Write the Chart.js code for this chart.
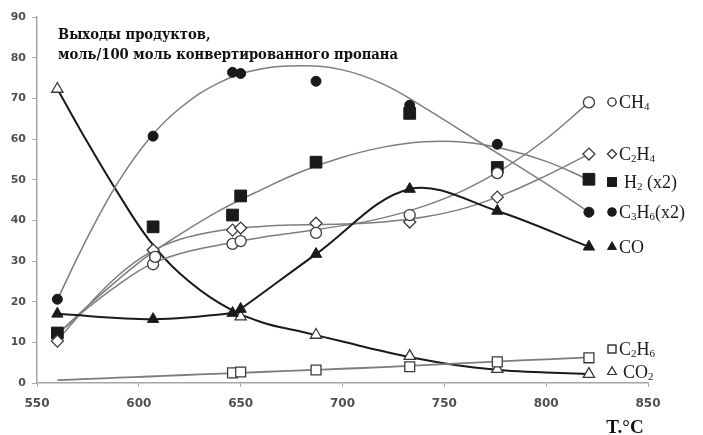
<!DOCTYPE html>
<html>
<head>
<meta charset="utf-8">
<script src="https://cdn.jsdelivr.net/npm/chart.js@4"></script>
<style>
  html, body { margin: 0; padding: 0; background: #fff; }
  #wrap { width: 703px; height: 435px; position: relative; }
</style>
</head>
<body>
<div id="wrap"><canvas id="myChart"></canvas></div>
<script>
// точки опытов (температура, °C)
const temps = [560, 607, 608, 646, 650, 687, 733, 776, 821];
const ch4 = [null, 29.2, 31, 34.2, 34.9, 36.9, 41.3, 51.6, 69];
const c2h4 = [10.3, 32.7, null, 37.6, 38.1, 39.3, 39.6, 45.7, 56.3];
const h2x2 = [12.3, 38.4, null, 41.3, 46, 54.3, 66.3, 53, 50.1];
const c3h6x2 = [20.6, 60.7, null, 76.4, 76.1, 74.2, 68.3, 58.7, 42];
const co = [17, 15.7, null, 17.2, 18.2, 31.7, 47.7, 42.3, 33.5];
const c2h6 = [null, null, null, 2.5, 2.7, 3.2, 4.0, 5.2, 6.2];
const co2 = [72.3, null, null, null, 16.3, 11.8, 6.6, 3.4, 2.2];

// линии тренда
const fitTemps = [560, 575, 590, 605, 620, 640, 660, 680, 700, 720, 740, 760, 780, 800, 821];
const fitCH4 = [12, 18.5, 24.2, 29, 31.8, 34, 35.8, 37.2, 38.7, 40.6, 43.5, 47.5, 53, 60, 69];
const fitC2H4 = [10.5, 19, 26.5, 32, 35.3, 37.5, 38.5, 38.9, 39.1, 39.6, 40.8, 43, 46.5, 51, 56.3];
const fitH2 = [12, 19, 25.5, 31.5, 36.5, 42.5, 47.5, 52, 55.5, 58, 59.3, 59.2, 57.5, 54.5, 50];
const fitC3H6 = [20.5, 36, 49.5, 60, 67.5, 74, 77.2, 78, 77, 73.5, 67.8, 61.5, 55.3, 49, 42];
const fitC2H6 = [0.7, 1.0, 1.3, 1.6, 1.9, 2.3, 2.7, 3.1, 3.5, 3.9, 4.4, 4.9, 5.4, 5.8, 6.3];
const fitCO2 = [72.3, 59, 46.5, 35.2, 27, 19.5, 15, 12.6, 10.2, 7.8, 5.7, 4.1, 3.1, 2.6, 2.2];

const xTicks = [550, 600, 650, 700, 750, 800, 850];
const yTicks = [0, 10, 20, 30, 40, 50, 60, 70, 80, 90];

const seriesNames = ['CH₄', 'C₂H₄', 'H₂ (x2)', 'C₃H₆(x2)', 'CO', 'C₂H₆', 'CO₂'];
const titleLines = ['Выходы продуктов,', 'моль/100 моль конвертированного пропана'];
const xTitle = 'T.°C';

const DARK = '#1a1a1a';
const GREY = '#7d7d7d';

function pts(xs, ys) {
    return xs.map((x, i) => ({ x, y: ys[i] })).filter(p => p.y !== null);
}

function marks(label, ys, style, filled, r) {
    return {
        label, data: pts(temps, ys), showLine: false, order: 1,
        pointStyle: style, pointRadius: r, pointHoverRadius: r,
        pointBackgroundColor: filled ? DARK : '#fff',
        pointBorderColor: filled ? DARK : '#3a3a3a',
        pointBorderWidth: filled ? 1 : 1.3
    };
}

function trend(ys, color, width) {
    return {
        data: pts(fitTemps, ys), showLine: true, order: 2,
        borderColor: color, borderWidth: width, pointRadius: 0,
        tension: 0.4, fill: false
    };
}

// подстрочные индексы рисуем мелким шрифтом
const SUB = '₀₁₂₃₄₅₆₇₈₉';
function drawRich(ctx, text, x, y, size) {
    let cx = x;
    for (const ch of text) {
        const k = SUB.indexOf(ch);
        if (k >= 0) {
            ctx.font = `${Math.round(size * 0.62)}px "Liberation Serif"`;
            ctx.fillText(String(k), cx, y + size * 0.22);
            cx += ctx.measureText(String(k)).width;
        } else {
            ctx.font = `${size}px "Liberation Serif"`;
            ctx.fillText(ch, cx, y);
            cx += ctx.measureText(ch).width;
        }
    }
}

function drawMarker(ctx, style, filled, x, y, r) {
    ctx.save();
    ctx.fillStyle = filled ? DARK : '#fff';
    ctx.strokeStyle = filled ? DARK : '#3a3a3a';
    ctx.lineWidth = 1.2;
    Chart.helpers.drawPoint(ctx, { pointStyle: style, radius: r, borderWidth: 1.2 }, x, y);
    ctx.fill();
    ctx.stroke();
    ctx.restore();
}

const legendRows = [
    { name: 0, style: 'circle', filled: false, r: 4, y: 102 },
    { name: 1, style: 'rectRot', filled: false, r: 4.5, y: 154 },
    { name: 2, style: 'rect', filled: true, r: 6, y: 182, gap: 5 },
    { name: 3, style: 'circle', filled: true, r: 4, y: 212 },
    { name: 4, style: 'triangle', filled: true, r: 4.5, y: 247 },
    { name: 5, style: 'rect', filled: false, r: 5.5, y: 349 },
    { name: 6, style: 'triangle', filled: false, r: 5, y: 372, gap: 4 }
];

const annotations = {
    id: 'annotations',
    afterDraw(chart) {
        const ctx = chart.ctx;
        ctx.save();
        // заголовок
        ctx.fillStyle = '#111';
        ctx.textBaseline = 'middle';
        ctx.font = 'bold 15px "DejaVu Serif"';
        const w = ctx.measureText(titleLines[1]).width;
        const sx = 340 / w;
        ctx.save();
        ctx.translate(58, 0);
        ctx.scale(sx, 1);
        ctx.fillText(titleLines[0], 0, 35);
        ctx.fillText(titleLines[1], 0, 55);
        ctx.restore();

        // подписи серий
        legendRows.forEach(row => {
            drawMarker(ctx, row.style, row.filled, 612, row.y, row.r);
            ctx.fillStyle = '#1a1a1a';
            ctx.textBaseline = 'middle';
            drawRich(ctx, seriesNames[row.name], 619 + (row.gap || 0), row.y + 1, 18);
        });

        // подпись оси X
        ctx.fillStyle = '#111';
        ctx.font = 'bold 19px "Liberation Serif"';
        ctx.textAlign = 'center';
        ctx.textBaseline = 'alphabetic';
        ctx.fillText(xTitle, 625, 433);
        ctx.restore();
    }
};

new Chart(document.getElementById('myChart'), {
    type: 'scatter',
    data: {
        datasets: [
            marks(seriesNames[0], ch4, 'circle', false, 5.5),
            marks(seriesNames[1], c2h4, 'rectRot', false, 6),
            marks(seriesNames[2], h2x2, 'rect', true, 8.3),
            marks(seriesNames[3], c3h6x2, 'circle', true, 5),
            Object.assign(marks(seriesNames[4], co, 'triangle', true, 6.5), {
                showLine: true, borderColor: DARK, borderWidth: 2, tension: 0.35, order: 1
            }),
            marks(seriesNames[5], c2h6, 'rect', false, 7),
            marks(seriesNames[6], co2, 'triangle', false, 6.5),
            trend(fitCH4, GREY, 1.5),
            trend(fitC2H4, GREY, 1.5),
            trend(fitH2, GREY, 1.5),
            trend(fitC3H6, GREY, 1.5),
            trend(fitC2H6, GREY, 1.8),
            trend(fitCO2, DARK, 2)
        ]
    },
    options: {
        responsive: true,
        maintainAspectRatio: false,
        animation: false,
        layout: { padding: { top: 17, right: 55, left: 0, bottom: 0 } },
        plugins: {
            legend: { display: false },
            tooltip: { enabled: false }
        },
        scales: {
            x: {
                type: 'linear', min: 550, max: 850,
                afterBuildTicks: s => { s.ticks = xTicks.map(v => ({ value: v })); },
                afterFit: s => { s.height = 52; },
                grid: { drawOnChartArea: false, drawTicks: true, tickLength: 4, color: '#aaa' },
                border: { color: '#a5a5a5', width: 1.5 },
                ticks: {
                    padding: 10, color: '#505050',
                    font: { family: 'DejaVu Sans', size: 12, weight: 'bold' }
                }
            },
            y: {
                min: 0, max: 90,
                afterBuildTicks: s => { s.ticks = yTicks.map(v => ({ value: v })); },
                afterFit: s => { s.width = 37; },
                grid: { drawOnChartArea: false, drawTicks: true, tickLength: 5, color: '#aaa' },
                border: { color: '#a5a5a5', width: 1.5 },
                ticks: {
                    padding: 6, color: '#505050',
                    font: { family: 'DejaVu Sans', size: 11, weight: 'bold' }
                }
            }
        }
    },
    plugins: [annotations]
});
</script>
</body>
</html>
